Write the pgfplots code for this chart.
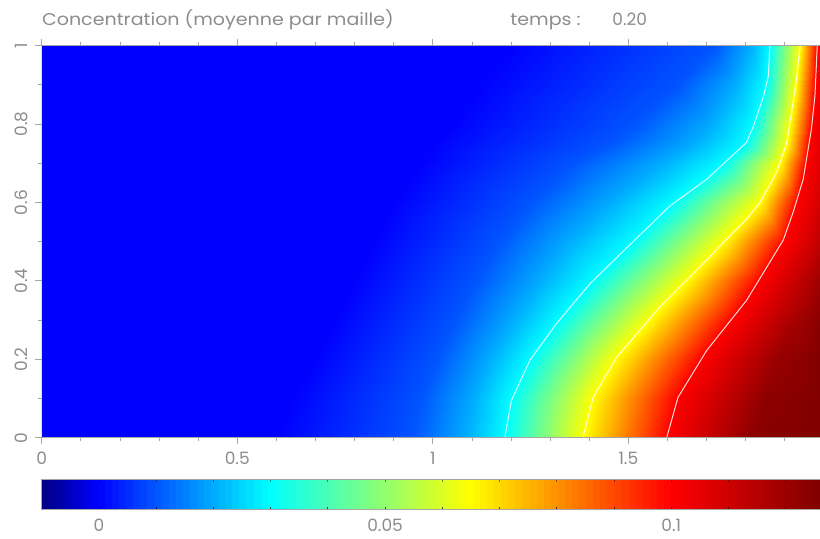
\documentclass[border=0pt]{standalone}
\usepackage{pgfplots}
\pgfplotsset{compat=1.18}
\usepackage{fontspec}
\setmainfont{Poppins}
\definecolor{axgray}{RGB}{165,165,165}
\definecolor{txtgray}{RGB}{140,140,140}
\pgfplotsset{colormap={conc}{rgb255(0cm)=(0,0,128) rgb255(10cm)=(0,0,255) rgb255(40cm)=(0,255,255) rgb255(75cm)=(255,255,0) rgb255(110cm)=(255,0,0) rgb255(136cm)=(128,0,0)}}
\newcommand\lab{\fontsize{8.5}{9}\selectfont}
\begin{document}
\begin{tikzpicture}
\useasboundingbox (0,0) rectangle (410pt,269.5pt);
\begin{axis}[
  at={(20.85pt,50.65pt)}, anchor=south west,
  scale only axis, width=389.15pt, height=196pt,
  xmin=0, xmax=1.99, ymin=0, ymax=1,
  colormap name=conc, point meta min=-0.01, point meta max=0.126,
  axis line style={draw=none},
  xtick={0,0.5,1,1.5}, xticklabels={0,0.5,1,1.5},
  minor xtick={0.1,0.2,0.3,0.4,0.6,0.7,0.8,0.9,1.1,1.2,1.3,1.4,1.6,1.7,1.8,1.9},
  ytick={0,0.2,0.4,0.6,0.8,1}, yticklabels={0,0.2,0.4,0.6,0.8,1},
  minor ytick={0.1,0.3,0.5,0.7,0.9},
  tick align=outside, xtick pos=both, ytick pos=left, xticklabel pos=lower,
  major tick length=3.3pt, minor tick length=1.7pt,
  tick style={draw=axgray, line width=0.4pt},
  ticklabel style={font=\lab, text=txtgray, inner sep=0pt},
  xticklabel style={anchor=north, yshift=-3.85pt},
  yticklabel style={xshift=-3.65pt, rotate=90, anchor=south},
  colorbar horizontal,
  colorbar sampled,
  colorbar style={
    at={(parent axis.south west)}, anchor=north west, yshift=-12.15pt,
    scale only axis, width=389.15pt, height=15.4pt,
    samples=111,
    xtick={0,0.05,0.1}, xticklabels={0,0.05,0.1},
    minor xtick={-0.01,0.01,0.02,0.03,0.04,0.06,0.07,0.08,0.09,0.11,0.12},
    xtick pos=both, xticklabel pos=lower, tick align=inside,
    major tick length=1.5pt, minor tick length=1.5pt,
    tick style={draw=black, opacity=0.45, line width=0.4pt},
    axis line style={draw=axgray},
    ticklabel style={font=\lab, text=txtgray, inner sep=0pt},
    xticklabel style={anchor=north, yshift=-4.6pt},
  },
]
\addplot[surf, shader=interp, mesh/cols=9, point meta=explicit] table[x=x, y=y, meta=c] {
x y c
0 0 0
0.60 0 0
0.95 0 0.01
1.08 0 0.02
1.184 0 0.03
1.384 0 0.065
1.598 0 0.10
1.82 0 0.124
1.99 0 0.126
0 0.1 0
0.64 0.1 0
0.97 0.1 0.01
1.10 0.1 0.02
1.201 0.1 0.03
1.408 0.1 0.065
1.625 0.1 0.10
1.85 0.1 0.123
1.99 0.1 0.126
0 0.2 0
0.70 0.2 0
1.01 0.2 0.01
1.14 0.2 0.02
1.250 0.2 0.03
1.466 0.2 0.065
1.687 0.2 0.10
1.88 0.2 0.121
1.99 0.2 0.126
0 0.3 0
0.75 0.3 0
1.06 0.3 0.01
1.20 0.3 0.02
1.322 0.3 0.03
1.552 0.3 0.065
1.765 0.3 0.10
1.92 0.3 0.118
1.99 0.3 0.124
0 0.4 0
0.80 0.4 0
1.11 0.4 0.01
1.27 0.4 0.02
1.410 0.4 0.03
1.647 0.4 0.065
1.833 0.4 0.10
1.92 0.4 0.111
1.99 0.4 0.120
0 0.5 0
0.85 0.5 0
1.17 0.5 0.01
1.34 0.5 0.02
1.512 0.5 0.03
1.743 0.5 0.065
1.897 0.5 0.10
1.95 0.5 0.107
1.99 0.5 0.113
0 0.6 0
0.90 0.6 0
1.25 0.6 0.01
1.45 0.6 0.02
1.617 0.6 0.03
1.836 0.6 0.065
1.930 0.6 0.10
1.965 0.6 0.105
1.99 0.6 0.109
0 0.7 0
0.97 0.7 0
1.36 0.7 0.01
1.58 0.7 0.02
1.744 0.7 0.03
1.887 0.7 0.065
1.954 0.7 0.10
1.974 0.7 0.1035
1.99 0.7 0.107
0 0.75 0
1.00 0.75 0
1.45 0.75 0.01
1.66 0.75 0.02
1.802 0.75 0.03
1.905 0.75 0.065
1.963 0.75 0.10
1.978 0.75 0.103
1.99 0.75 0.106
0 0.8 0
1.05 0.8 0
1.52 0.8 0.01
1.71 0.8 0.02
1.821 0.8 0.03
1.913 0.8 0.065
1.969 0.8 0.10
1.980 0.8 0.1025
1.99 0.8 0.105
0 0.9 0
1.12 0.9 0
1.63 0.9 0.01
1.77 0.9 0.02
1.851 0.9 0.03
1.928 0.9 0.065
1.977 0.9 0.10
1.984 0.9 0.102
1.99 0.9 0.104
0 1 0
1.20 1 0
1.72 1 0.01
1.81 1 0.02
1.862 1 0.03
1.939 1 0.065
1.983 1 0.10
1.987 1 0.1015
1.99 1 0.103
};
\addplot[white, line width=0.5pt, opacity=0.85] coordinates {(1.184,0) (1.201,0.095) (1.248,0.197) (1.316,0.291) (1.402,0.393) (1.512,0.5) (1.606,0.591) (1.700,0.659) (1.802,0.753) (1.820,0.795) (1.846,0.872) (1.858,0.923) (1.862,1)};
\addplot[white, line width=0.5pt, opacity=0.85] coordinates {(1.384,0) (1.410,0.103) (1.470,0.205) (1.580,0.333) (1.700,0.453) (1.745,0.5) (1.802,0.557) (1.836,0.599) (1.879,0.676) (1.905,0.753) (1.917,0.829) (1.930,0.915) (1.939,1)};
\addplot[white, line width=0.5pt, opacity=0.85] coordinates {(1.598,0) (1.627,0.103) (1.700,0.222) (1.802,0.350) (1.896,0.504) (1.921,0.574) (1.947,0.659) (1.968,0.787) (1.977,0.872) (1.983,1)};
\draw[axgray, line width=0.5pt] (axis cs:1.99,1) -- (axis cs:0,1) -- (axis cs:0,0) -- (axis cs:1.99,0);
\end{axis}
\node[anchor=base west, text=txtgray, font=\lab, inner sep=0pt, xscale=1.12] at (20.85pt,256.5pt) {Concentration (moyenne par maille)};
\node[anchor=base west, text=txtgray, font=\lab, inner sep=0pt, xscale=1.12] at (255pt,256.5pt) {temps :};
\node[anchor=base west, text=txtgray, font=\lab, inner sep=0pt] at (306pt,256.5pt) {0.20};
\end{tikzpicture}
\end{document}
